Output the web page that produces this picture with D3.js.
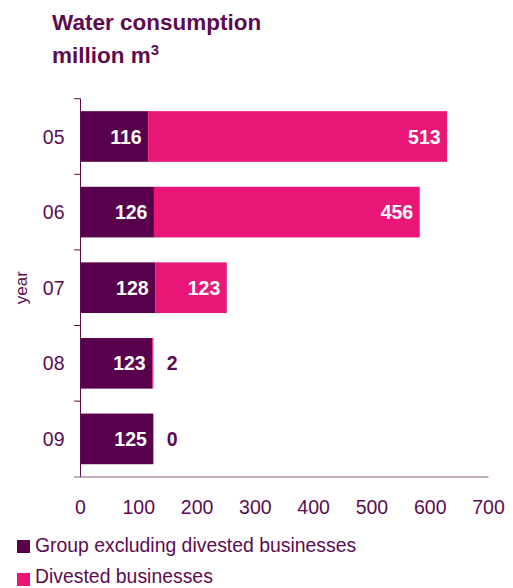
<!DOCTYPE html>
<html>
<head>
<meta charset="utf-8">
<script src="https://cdn.jsdelivr.net/npm/d3@7"></script>
<style>
  html, body { margin: 0; padding: 0; background: #fff; }
  svg { display: block; font-family: "Liberation Sans", Arial, sans-serif; }
</style>
</head>
<body>
<svg id="chart" width="513" height="588"></svg>
<script>
// Water consumption, million m3, by year
const years = ["05", "06", "07", "08", "09"];
const groupValues = [116, 126, 128, 123, 125];     // Group excluding divested businesses
const divestedValues = [513, 456, 123, 2, 0];      // Divested businesses
const xTicks = [0, 100, 200, 300, 400, 500, 600, 700];
const seriesNames = ["Group excluding divested businesses", "Divested businesses"];

const DARK = "#58004b";
const PINK = "#e91678";
const TEXT = "#5c0b50";

const svg = d3.select("#chart");

const x = d3.scaleLinear().domain([0, 700]).range([80.5, 488.5]);
const y = d3.scaleBand()
  .domain(years)
  .range([98.7, 476.7])
  .paddingInner(0.33)
  .paddingOuter(0.165);

// Title
const title = svg.append("g").attr("fill", TEXT).attr("font-weight", "bold");
title.append("text").attr("x", 52).attr("y", 30).attr("font-size", 22.5).text("Water consumption");
const t2 = title.append("text").attr("x", 52).attr("y", 63).attr("font-size", 22.5);
t2.append("tspan").text("million m");
t2.append("tspan").attr("font-size", 15).attr("dy", -8).text("3");

// Stacked bars
const rows = years.map((yr, i) => ({ yr, g: groupValues[i], d: divestedValues[i] }));

const bars = svg.append("g");
bars.selectAll("rect.group").data(rows).join("rect")
  .attr("class", "group")
  .attr("x", x(0))
  .attr("y", d => y(d.yr))
  .attr("width", d => x(d.g) - x(0))
  .attr("height", y.bandwidth())
  .attr("fill", DARK);

bars.selectAll("rect.divested").data(rows.filter(d => d.d > 0)).join("rect")
  .attr("class", "divested")
  .attr("x", d => x(d.g))
  .attr("y", d => y(d.yr))
  .attr("width", d => x(d.g + d.d) - x(d.g))
  .attr("height", y.bandwidth())
  .attr("fill", PINK);

// Value labels
const labels = svg.append("g").attr("font-weight", "bold").attr("font-size", 19.5);
labels.selectAll("text.gl").data(rows).join("text")
  .attr("class", "gl")
  .attr("x", d => x(d.g) - 6.5)
  .attr("y", d => y(d.yr) + y.bandwidth() / 2)
  .attr("dy", "0.36em")
  .attr("text-anchor", "end")
  .attr("fill", "#fff")
  .text(d => d.g);

labels.selectAll("text.dl").data(rows).join("text")
  .attr("class", "dl")
  .each(function (d) {
    const inside = x(d.g + d.d) - x(d.g) > 40;
    d3.select(this)
      .attr("x", inside ? x(d.g + d.d) - 6.5 : x(d.g + d.d) + 13.5)
      .attr("text-anchor", inside ? "end" : "start")
      .attr("fill", inside ? "#fff" : TEXT);
  })
  .attr("y", d => y(d.yr) + y.bandwidth() / 2)
  .attr("dy", "0.36em")
  .text(d => d.d);

// Y axis: line, boundary ticks, category labels
const yAxis = svg.append("g");
yAxis.append("line")
  .attr("x1", x(0)).attr("x2", x(0))
  .attr("y1", y.range()[0]).attr("y2", y.range()[1] + 0.5)
  .attr("stroke", TEXT).attr("stroke-width", 1);
const boundaries = d3.range(years.length).map(i => y.range()[0] + i * y.step());
yAxis.selectAll("line.tick").data(boundaries).join("line")
  .attr("class", "tick")
  .attr("x1", 74).attr("x2", x(0))
  .attr("y1", d => d).attr("y2", d => d)
  .attr("stroke", TEXT).attr("stroke-width", 1);
yAxis.selectAll("text").data(years).join("text")
  .attr("x", 64.5)
  .attr("y", d => y(d) + y.bandwidth() / 2)
  .attr("dy", "0.36em")
  .attr("text-anchor", "end")
  .attr("font-size", 19.5)
  .attr("fill", TEXT)
  .text(d => d);

svg.append("text")
  .attr("transform", `translate(27,${(y.range()[0] + y.range()[1]) / 2}) rotate(-90)`)
  .attr("text-anchor", "middle")
  .attr("font-size", 17)
  .attr("fill", TEXT)
  .text("year");

// X axis: baseline and tick labels
const xAxis = svg.append("g");
xAxis.append("line")
  .attr("x1", 74).attr("x2", x(700))
  .attr("y1", 477).attr("y2", 477)
  .attr("stroke", "#8e5a86").attr("stroke-width", 1.2);
xAxis.selectAll("text").data(xTicks).join("text")
  .attr("x", d => x(d))
  .attr("y", 514)
  .attr("text-anchor", "middle")
  .attr("font-size", 19.5)
  .attr("fill", TEXT)
  .text(d => d);

// Legend
const legend = svg.append("g");
const legendColors = [DARK, PINK];
legend.selectAll("rect").data(seriesNames).join("rect")
  .attr("x", 17)
  .attr("y", (d, i) => 540 + i * 33)
  .attr("width", 13).attr("height", 13)
  .attr("fill", (d, i) => legendColors[i]);
legend.selectAll("text").data(seriesNames).join("text")
  .attr("x", 35)
  .attr("y", (d, i) => 552 + i * 31)
  .attr("font-size", 19.4)
  .attr("fill", TEXT)
  .text(d => d);
</script>
</body>
</html>
